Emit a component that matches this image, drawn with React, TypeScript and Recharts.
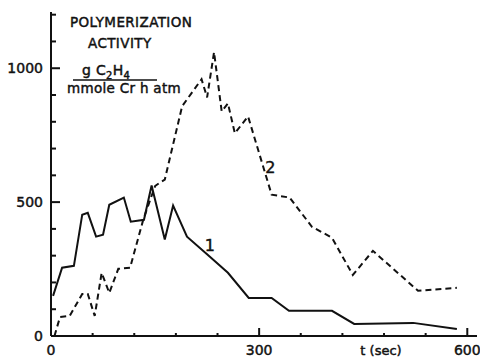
import React from "react";
import { LineChart, Line, XAxis, YAxis, ReferenceDot } from "recharts";

// curve 1 (solid) and curve 2 (dashed): time in seconds, activity in g C2H4 / mmole Cr h atm
const time1 = [3, 16, 33, 45, 53, 65, 75, 84, 105, 115, 134, 145, 164, 176, 196, 229, 255, 285, 318, 343, 405, 437, 522, 585];
const activity1 = [150, 255, 262, 453, 460, 371, 378, 490, 517, 427, 434, 562, 360, 487, 371, 296, 236, 142, 142, 94, 94, 45, 49, 26];

const time2 = [5, 13, 27, 45, 53, 63, 73, 84, 97, 114, 133, 150, 157, 164, 189, 217, 225, 235, 246, 255, 265, 284, 318, 344, 376, 405, 435, 464, 529, 585];
const activity2 = [0, 71, 75, 157, 157, 75, 236, 161, 251, 255, 435, 560, 573, 584, 858, 959, 891, 1060, 839, 869, 757, 820, 528, 517, 408, 367, 228, 318, 169, 180];

const xTicks = [0, 60, 120, 180, 240, 300, 360, 420, 480, 540, 600];
const yTicks = [0, 100, 200, 300, 400, 500, 600, 700, 800, 900, 1000, 1100, 1200];
const xLabels = [0, 300, 600];
const yLabels = [0, 500, 1000];

const curve1 = time1.map((t, i) => ({ t, v: activity1[i] }));
const curve2 = time2.map((t, i) => ({ t, v: activity2[i] }));

const FONT = "'DejaVu Sans', sans-serif";
const INK = "#111";
// the scanned lettering is heavier than DejaVu regular, so give it a thin outline
const heavy = { stroke: INK, strokeWidth: 0.45 };

const TickX = (props: any) => {
  const { x, y, payload } = props;
  const major = xLabels.includes(payload.value);
  return (
    <g>
      <line x1={x} x2={x} y1={y} y2={y - (major ? 8 : 3)} stroke={INK} strokeWidth={2} />
      {major && (
        <text x={x} y={y + 19} textAnchor="middle" fontSize={14} fontFamily={FONT} fill={INK} {...heavy}>
          {payload.value}
        </text>
      )}
    </g>
  );
};

const TickY = (props: any) => {
  const { x, y, payload } = props;
  const major = yLabels.includes(payload.value);
  return (
    <g>
      <line x1={x} x2={x + (major ? 9 : 5)} y1={y} y2={y} stroke={INK} strokeWidth={2} />
      {major && (
        <text x={x - 8} y={y + 5} textAnchor="end" fontSize={14} fontFamily={FONT} fill={INK} {...heavy}>
          {payload.value}
        </text>
      )}
    </g>
  );
};

const CurveLabel = (text: string) => (props: any) => {
  const { viewBox } = props;
  const cx = viewBox.x + viewBox.width / 2;
  const cy = viewBox.y + viewBox.height / 2;
  return (
    <text x={cx} y={cy + 6} textAnchor="middle" fontSize={16} fontFamily={FONT} fill={INK} {...heavy}>
      {text}
    </text>
  );
};

export default function App() {
  return (
    <div style={{ position: "absolute", left: 0, top: 0, width: 480, height: 358, background: "#fff" }}>
      <LineChart width={480} height={358} margin={{ top: 12, right: 3, bottom: 0, left: 0 }}>
        <XAxis
          type="number"
          dataKey="t"
          domain={[0, 614]}
          ticks={xTicks}
          tick={<TickX />}
          tickLine={false}
          tickSize={0}
          tickMargin={0}
          height={22}
          axisLine={{ stroke: INK, strokeWidth: 2 }}
          allowDataOverflow
        />
        <YAxis
          type="number"
          dataKey="v"
          domain={[0, 1210]}
          ticks={yTicks}
          tick={<TickY />}
          tickLine={false}
          tickSize={0}
          tickMargin={0}
          width={51}
          axisLine={{ stroke: INK, strokeWidth: 2 }}
          allowDataOverflow
        />
        <Line
          data={curve1}
          dataKey="v"
          type="linear"
          stroke={INK}
          strokeWidth={2}
          dot={false}
          isAnimationActive={false}
        />
        <Line
          data={curve2}
          dataKey="v"
          type="linear"
          stroke={INK}
          strokeWidth={2}
          strokeDasharray="6 4"
          dot={false}
          isAnimationActive={false}
        />
        <ReferenceDot x={229} y={340} r={0} fill="none" stroke="none" label={{ content: CurveLabel("1") }} />
        <ReferenceDot x={316} y={631} r={0} fill="none" stroke="none" label={{ content: CurveLabel("2") }} />
      </LineChart>
      <svg width={480} height={358} style={{ position: "absolute", left: 0, top: 0, pointerEvents: "none" }}>
        <g fontFamily={FONT} fill={INK} {...heavy}>
          <text x={70} y={27} fontSize={13.5} letterSpacing={0.4}>POLYMERIZATION</text>
          <text x={88} y={48} fontSize={13.5} letterSpacing={0.4}>ACTIVITY</text>
          <text x={82} y={75} fontSize={14} letterSpacing={0.3}>
            g C<tspan fontSize={10} dy={4}>2</tspan>
            <tspan dy={-4}>H</tspan>
            <tspan fontSize={10} dy={4}>4</tspan>
          </text>
          <line x1={73} x2={157} y1={80} y2={80} stroke={INK} strokeWidth={1.5} />
          <text x={67} y={93} fontSize={13.5} letterSpacing={0.3}>mmole Cr  h atm</text>
          <text x={381} y={355} fontSize={13} textAnchor="middle">t (sec)</text>
        </g>
      </svg>
    </div>
  );
}
